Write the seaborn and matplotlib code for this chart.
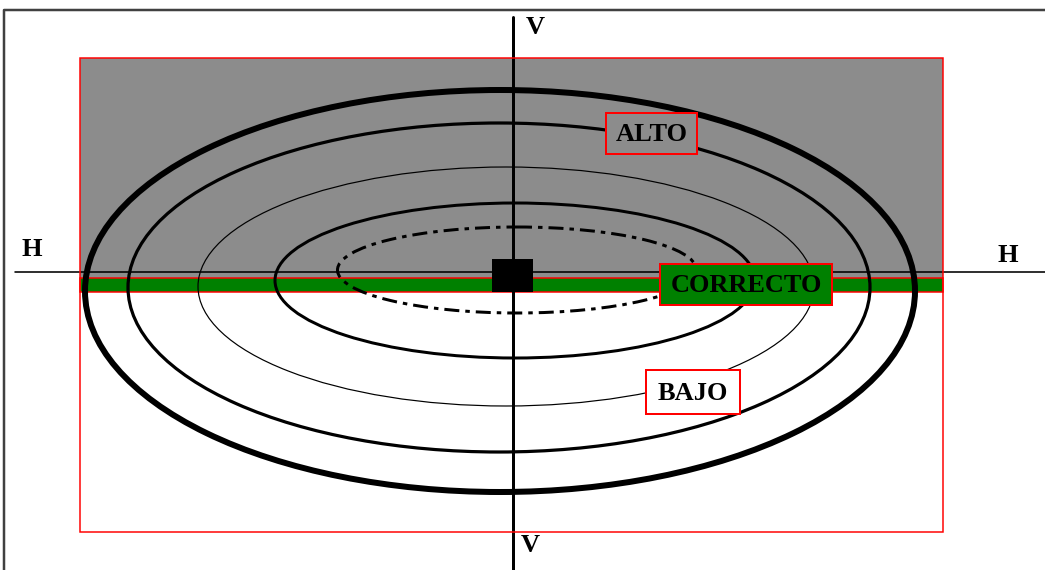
import matplotlib.pyplot as plt
import seaborn as sns
from matplotlib.patches import Ellipse, Rectangle

# Datos del diagrama (coordenadas en pixeles de la imagen)
elipse_cx = [500, 499, 506, 515, 517]
elipse_cy = [291, 287.5, 286.5, 280.5, 270]
elipse_ancho = [830, 742, 616, 480, 359]
elipse_alto = [402, 329, 239, 155, 86]
elipse_grosor = [6, 3.2, 1.2, 3, 3]
elipse_trazo = ['-', '-', '-', '-', (0, (5, 2, 1.5, 2))]

etiquetas = ['ALTO', 'CORRECTO', 'BAJO']
etiqueta_caja = [(606, 113, 91, 41), (660, 264, 172, 41), (646, 370, 94, 44)]
etiqueta_fondo = ['#8c8c8c', '#008000', '#ffffff']

ejes_texto = ['H', 'H', 'V', 'V']
ejes_pos = [(32, 249), (1008, 256), (535, 28), (530, 545)]

PX = 0.72  # pixel -> punto a 100 dpi

sns.set_theme(style="white")
plt.rcParams['font.family'] = ['Liberation Serif', 'DejaVu Serif']

fig = plt.figure(figsize=(10.45, 5.7), dpi=100)
ax = fig.add_axes([0, 0, 1, 1])
ax.set_xlim(0, 1045)
ax.set_ylim(570, 0)
ax.axis('off')

# marco exterior
ax.plot([4, 4, 1045], [570, 10, 10], color='#404040', lw=2.5 * PX, zorder=1)

# zona ALTO (gris) y banda CORRECTO (verde)
ax.add_patch(Rectangle((80, 58), 863, 220, facecolor='#8c8c8c', edgecolor='none', zorder=1))
ax.add_patch(Rectangle((80, 278), 863, 14, facecolor='#008000', edgecolor='red',
                       lw=1.5 * PX, zorder=2))

# ejes H y V
ax.plot([15, 1045], [272, 272], color='black', lw=1.6 * PX, zorder=3)
ax.plot([513, 513], [17, 570], color='black', lw=3 * PX, zorder=3)

# elipses
for cx, cy, w, h, g, t in zip(elipse_cx, elipse_cy, elipse_ancho, elipse_alto,
                              elipse_grosor, elipse_trazo):
    ax.add_patch(Ellipse((cx, cy), w, h, fill=False, edgecolor='black',
                         lw=g * PX, linestyle=t, zorder=4))

# cuadrado central
ax.add_patch(Rectangle((492, 259), 41, 33, facecolor='black', edgecolor='none', zorder=5))

# marco rojo
ax.add_patch(Rectangle((80, 58), 863, 474, fill=False, edgecolor='red', lw=1.5 * PX, zorder=5))

# etiquetas
for txt, (x, y, w, h), fondo in zip(etiquetas, etiqueta_caja, etiqueta_fondo):
    ax.add_patch(Rectangle((x, y), w, h, facecolor=fondo, edgecolor='red',
                           lw=2 * PX, zorder=6))
    ax.text(x + w / 2, y + h / 2 + 1, txt, ha='center', va='center',
            fontsize=19, fontweight='bold', color='black', zorder=7)

for txt, (x, y) in zip(ejes_texto, ejes_pos):
    ax.text(x, y, txt, ha='center', va='center', fontsize=19,
            fontweight='bold', color='black', zorder=7)

fig.savefig('out.png', dpi=100, facecolor='white')
